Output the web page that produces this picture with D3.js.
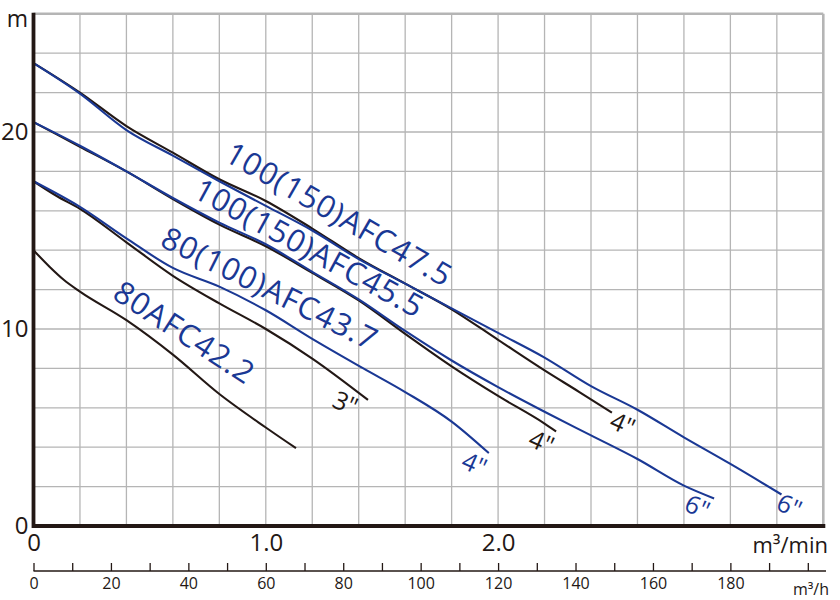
<!DOCTYPE html>
<html>
<head>
<meta charset="utf-8">
<script src="https://cdn.jsdelivr.net/npm/d3@7"></script>
<style>
body { margin: 0; background: #fff; }
text { font-family: "Open Sans", sans-serif; }
</style>
</head>
<body>
<div id="chart"></div>
<script>
// Pump performance curves: total head (m) vs capacity (m3/min)

// [capacity m3/min, head m]
const afc475_4in = [[0,23.5],[0.2,22.0],[0.4,20.3],[0.6,18.95],[0.8,17.6],[1.0,16.5],[1.2,15.1],[1.4,13.6],[1.6,12.3],[1.8,11.0],[2.0,9.45],[2.2,7.9],[2.35,6.8],[2.49,5.75]];
const afc475_6in = [[0,23.5],[0.2,21.95],[0.4,20.1],[0.6,18.8],[0.8,17.5],[1.0,16.25],[1.2,15.0],[1.4,13.55],[1.6,12.3],[1.8,11.05],[2.0,9.8],[2.2,8.55],[2.4,7.1],[2.6,5.9],[2.8,4.5],[3.0,3.15],[3.22,1.6]];
const afc455_4in = [[0,20.5],[0.2,19.25],[0.4,18.0],[0.6,16.6],[0.8,15.3],[1.0,14.2],[1.2,12.85],[1.4,11.45],[1.6,9.75],[1.8,8.1],[2.0,6.6],[2.2,5.2],[2.25,4.8]];
const afc455_6in = [[0,20.5],[0.2,19.3],[0.4,18.0],[0.6,16.65],[0.8,15.4],[1.0,14.3],[1.2,12.9],[1.4,11.5],[1.6,9.9],[1.8,8.4],[2.0,7.05],[2.2,5.8],[2.4,4.6],[2.6,3.4],[2.8,2.05],[2.93,1.4]];
const afc437_3in = [[0,17.5],[0.1,16.75],[0.2,16.1],[0.4,14.4],[0.6,12.7],[0.8,11.3],[1.0,10.0],[1.2,8.5],[1.44,6.4]];
const afc437_4in = [[0,17.5],[0.2,16.2],[0.4,14.6],[0.6,13.1],[0.8,12.15],[1.0,10.95],[1.2,9.5],[1.42,8.0],[1.6,6.8],[1.8,5.3],[1.96,3.7]];
const afc422 = [[0,14.0],[0.07,13.15],[0.13,12.5],[0.2,11.9],[0.4,10.45],[0.6,8.7],[0.8,6.7],[1.0,5.0],[1.13,3.95]];

const curves = [afc475_4in, afc475_6in, afc455_4in, afc455_6in, afc437_3in, afc437_4in, afc422];
const curveIsBlue = [false, true, false, true, false, true, false];

const modelNames = ["100(150)AFC47.5", "100(150)AFC45.5", "80(100)AFC43.7", "80AFC42.2"];
const modelAt = [[1.318,15.87],[1.189,14.16],[1.019,12.1],[0.652,9.87]];
const modelAngle = [30, 28.5, 26.5, 33];

const boreNames = ['3"', '4"', '4"', '4"', '6"', '6"'];
const boreAt = [[1.345,6.29],[1.9,3.2],[2.189,4.31],[2.538,5.23],[2.86,1.02],[3.256,1.07]];
const boreIsBlue = [false, true, false, false, true, true];

const headTicks = [0, 10, 20];
const flowTicks = [0, 1, 2];
const hourTicks = [0,10,20,30,40,50,60,70,80,90,100,110,120,130,140,150,160,170,180,190,200];

const blue = "#1a3894";
const ink = "#231815";
const gridColor = "#b5b5b5";

const width = 840, height = 600;

const x = d3.scaleLinear().domain([0, 3.4]).range([33.5, 823.3]);
const y = d3.scaleLinear().domain([0, 26]).range([526, 13.8]);
const xh = d3.scaleLinear().domain([0, 204]).range([33.5, 823.3]);

const svg = d3.select("#chart")
    .append("svg")
    .attr("width", width)
    .attr("height", height);

// grid
svg.append("g")
    .selectAll("line")
    .data(x.ticks(17).slice(1))
    .enter()
    .append("line")
    .attr("x1", d => x(d)).attr("x2", d => x(d))
    .attr("y1", y(26)).attr("y2", y(0))
    .attr("stroke", gridColor)
    .attr("stroke-width", d => d > 3.3 ? 2.6 : 1.3);

svg.append("g")
    .selectAll("line")
    .data(y.ticks(13).slice(1))
    .enter()
    .append("line")
    .attr("x1", x(0)).attr("x2", x(3.4))
    .attr("y1", d => y(d)).attr("y2", d => y(d))
    .attr("stroke", gridColor)
    .attr("stroke-width", d => d > 25 ? 2.6 : 1.3);

// curves
const line = d3.line()
    .x(d => x(d[0]))
    .y(d => y(d[1]))
    .curve(d3.curveMonotoneX);

svg.append("g")
    .selectAll("path")
    .data(curves)
    .enter()
    .append("path")
    .attr("d", line)
    .attr("fill", "none")
    .attr("stroke", (d, i) => curveIsBlue[i] ? blue : ink)
    .attr("stroke-width", 2.1)
    .attr("stroke-linejoin", "round");

// main axes
svg.append("line")
    .attr("x1", x(0)).attr("x2", x(3.4) + 2)
    .attr("y1", y(0)).attr("y2", y(0))
    .attr("stroke", ink).attr("stroke-width", 3.8);
svg.append("line")
    .attr("x1", x(0)).attr("x2", x(0))
    .attr("y1", y(26) - 1).attr("y2", y(0) + 1.9)
    .attr("stroke", ink).attr("stroke-width", 3.8);

// model labels
svg.append("g")
    .selectAll("text")
    .data(modelNames)
    .enter()
    .append("text")
    .attr("transform", (d, i) => `translate(${x(modelAt[i][0])},${y(modelAt[i][1])}) rotate(${modelAngle[i]})`)
    .attr("text-anchor", "middle")
    .attr("dominant-baseline", "central")
    .attr("font-size", 31)
    .attr("letter-spacing", 1)
    .attr("fill", blue)
    .text(d => d);

// bore labels
svg.append("g")
    .selectAll("text")
    .data(boreNames)
    .enter()
    .append("text")
    .attr("transform", (d, i) => `translate(${x(boreAt[i][0])},${y(boreAt[i][1])}) rotate(24)`)
    .attr("text-anchor", "middle")
    .attr("dominant-baseline", "central")
    .attr("font-size", 25)
    .attr("fill", (d, i) => boreIsBlue[i] ? blue : ink)
    .text(d => d);

// head axis labels
const yAxis = svg.append("g")
    .attr("transform", `translate(${x(0) - 5},0)`)
    .call(d3.axisLeft(y).tickValues(headTicks).tickSize(0).tickPadding(0).tickFormat(d3.format("d")));
yAxis.select(".domain").remove();
yAxis.selectAll("text")
    .attr("font-size", 24)
    .attr("font-family", "Open Sans")
    .attr("fill", ink);

svg.append("text")
    .attr("x", 28).attr("y", 27)
    .attr("text-anchor", "end")
    .attr("font-size", 23)
    .attr("fill", ink)
    .text("m");

// capacity axis labels (m3/min)
const xAxis = svg.append("g")
    .attr("transform", `translate(0,${y(0)})`)
    .call(d3.axisBottom(x).tickValues(flowTicks).tickSize(0).tickPadding(8)
        .tickFormat(d => d === 0 ? "0" : d3.format(".1f")(d)));
xAxis.select(".domain").remove();
xAxis.selectAll("text")
    .attr("font-size", 24)
    .attr("font-family", "Open Sans")
    .attr("fill", ink);

svg.append("text")
    .attr("x", 828).attr("y", 553)
    .attr("text-anchor", "end")
    .attr("font-size", 22)
    .attr("fill", ink)
    .text("m³/min");

// capacity axis (m3/h)
const hAxis = svg.append("g")
    .attr("transform", "translate(0,571)")
    .call(d3.axisBottom(xh).tickValues(hourTicks).tickSizeInner(-8).tickSizeOuter(0).tickPadding(7)
        .tickFormat(d => d % 20 === 0 && d < 200 ? d : ""));
hAxis.select(".domain")
    .attr("d", `M${xh(0)},0H826`)
    .attr("stroke", ink)
    .attr("stroke-width", 1.6);
hAxis.selectAll(".tick line")
    .attr("stroke", ink)
    .attr("stroke-width", 1.3);
hAxis.selectAll("text")
    .attr("font-size", 16)
    .attr("font-family", "Open Sans")
    .attr("fill", ink);

svg.append("text")
    .attr("x", 829).attr("y", 595)
    .attr("text-anchor", "end")
    .attr("font-size", 16)
    .attr("fill", ink)
    .text("m³/h");
</script>
</body>
</html>
